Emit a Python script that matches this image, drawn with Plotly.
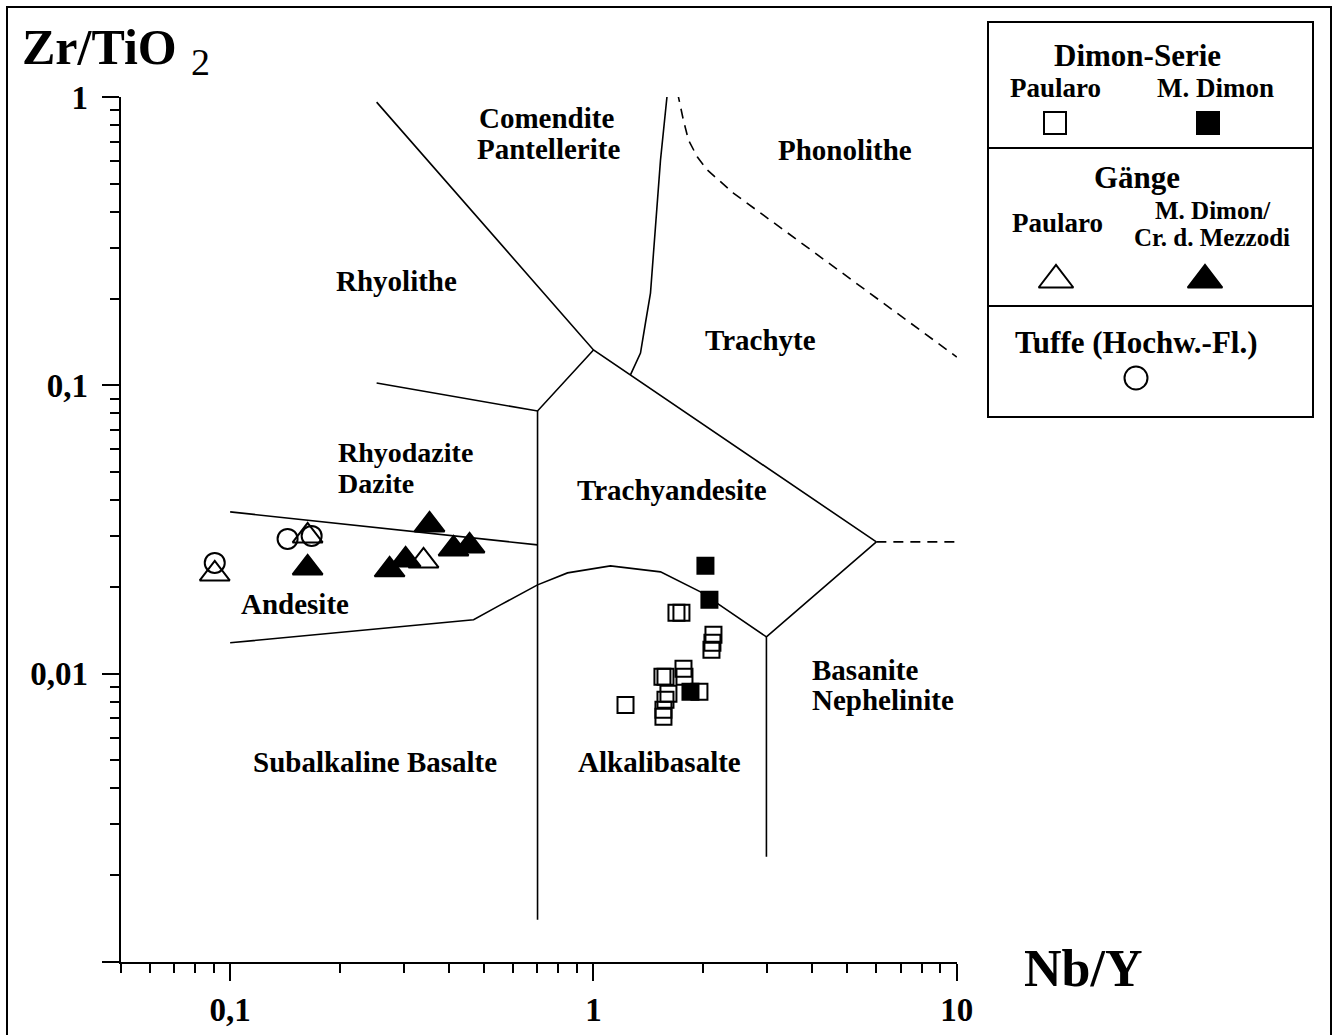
import numpy as np
import plotly.graph_objects as go

W, H = 1338, 1035

# ---------------- data (Nb/Y , Zr/TiO2) ----------------
# Dimon-Serie, Paularo (open squares)
dimon_paularo_nby = [1.692, 1.746, 2.139, 2.125, 2.112, 1.769, 1.780, 1.548, 1.578,
                     1.578, 1.608, 1.957, 1.225, 1.558, 1.558]
dimon_paularo_zrti = [0.01625, 0.01625, 0.01363, 0.01279, 0.01209, 0.01039, 0.00975, 0.00975, 0.00975,
                      0.00811, 0.00851, 0.00865, 0.00779, 0.00708, 0.00749]
# Dimon-Serie, M. Dimon (filled squares)
dimon_mdimon_nby = [2.033, 2.085, 1.849]
dimon_mdimon_zrti = [0.02365, 0.01803, 0.00865]
# Gänge, Paularo (open triangles)
gaenge_paularo_nby = [0.0907, 0.1634, 0.3406]
gaenge_paularo_zrti = [0.02218, 0.03005, 0.02461]
# Gänge, M. Dimon / Cr. d. Mezzodi (filled triangles)
gaenge_mdimon_nby = [0.1634, 0.2747, 0.3040, 0.3538, 0.4119, 0.4560]
gaenge_mdimon_zrti = [0.02327, 0.02291, 0.02480, 0.03281, 0.02708, 0.02774]
# Tuffe (Hochw.-Fl.) (open circles)
tuffe_nby = [0.0907, 0.1439, 0.1676]
tuffe_zrti = [0.02422, 0.02934, 0.03005]

# ---------------- field boundaries (Winchester & Floyd) ----------------
b_rhy_com_x = [0.2530, 1.0, 6.005]
b_rhy_com_y = [0.9609, 0.1327, 0.02864]
b_rhy_rhd_x = [0.2530, 0.7015, 1.0]
b_rhy_rhd_y = [0.1019, 0.0815, 0.1327]
b_vert1_x = [0.7015, 0.7015]
b_vert1_y = [0.0815, 0.0014]
b_rhd_and_x = [0.1, 0.7015]
b_rhd_and_y = [0.0364, 0.02797]
b_and_sub_x = [0.1, 0.4677, 0.5548, 0.7015, 0.8482, 1.1137, 1.529, 1.970, 2.992]
b_and_sub_y = [0.01279, 0.01537, 0.01732, 0.02032, 0.02236, 0.02365, 0.02254, 0.01921, 0.01341]
b_bas_x = [6.005, 2.992, 2.992]
b_bas_y = [0.02864, 0.01341, 0.002316]
b_com_tra_x = [1.264, 1.347, 1.390, 1.435, 1.481, 1.529, 1.598]
b_com_tra_y = [0.1087, 0.1295, 0.1646, 0.2091, 0.3541, 0.6046, 1.041]
b_pho_x = [1.702, 1.768, 1.826, 1.932, 2.059, 2.427, 10.0]
b_pho_y = [1.041, 0.832, 0.7094, 0.6194, 0.5582, 0.4647, 0.1254]
b_pho2_x = [6.005, 10.0]
b_pho2_y = [0.02864, 0.02864]

# ---------------- ticks ----------------
x_major = [0.1, 1, 10]
x_major_text = ["0,1", "1", "10"]
x_minor = [0.05, 0.06, 0.07, 0.08, 0.09, 0.2, 0.3, 0.4, 0.5, 0.6, 0.7, 0.8, 0.9,
           2, 3, 4, 5, 6, 7, 8, 9]
y_major = [0.001, 0.01, 0.1, 1]
y_major_text = ["", "0,01", "0,1", "1"]
y_minor = [0.002, 0.003, 0.004, 0.005, 0.006, 0.007, 0.008, 0.009,
           0.02, 0.03, 0.04, 0.05, 0.06, 0.07, 0.08, 0.09,
           0.2, 0.3, 0.4, 0.5, 0.6, 0.7, 0.8, 0.9]

# ---------------- labels ----------------
field_labels = ["Comendite", "Pantellerite", "Phonolithe", "Rhyolithe", "Trachyte",
                "Rhyodazite", "Dazite", "Trachyandesite", "Andesite",
                "Subalkaline Basalte", "Alkalibasalte", "Basanite", "Nephelinite"]
field_pos = [(477, 118, "left", 29), (475, 149, "left", 29), (845, 150, "center", 29),
             (396, 281, "center", 29), (760, 340, "center", 29), (336, 452, "left", 28),
             (336, 483, "left", 28), (672, 490, "center", 29), (295, 604, "center", 29),
             (375, 762, "center", 29), (659, 762, "center", 29),
             (810, 670, "left", 29), (810, 700, "left", 29)]

FONT = "Liberation Serif"

def px(x):
    return x / W

def py(y):
    return 1 - y / H

# plot area in pixels
PX0, PX1, PY0, PY1 = 120.6, 957.0, 97.0, 962.0

fig = go.Figure()

for bx, by, dash in [(b_rhy_com_x, b_rhy_com_y, "solid"), (b_rhy_rhd_x, b_rhy_rhd_y, "solid"),
                     (b_vert1_x, b_vert1_y, "solid"), (b_rhd_and_x, b_rhd_and_y, "solid"),
                     (b_and_sub_x, b_and_sub_y, "solid"), (b_bas_x, b_bas_y, "solid"),
                     (b_com_tra_x, b_com_tra_y, "solid"), (b_pho_x, b_pho_y, "10px,7px"),
                     (b_pho2_x, b_pho2_y, "10px,7px")]:
    fig.add_trace(go.Scatter(x=bx, y=by, mode="lines", line=dict(color="black", width=1.6, dash=dash),
                             hoverinfo="skip", showlegend=False))

def mk(symbol, size):
    return dict(symbol=symbol, size=size, color="black",
                line=dict(color="black", width=2))

fig.add_trace(go.Scatter(x=tuffe_nby, y=tuffe_zrti, mode="markers",
                         marker=mk("circle-open", 20), showlegend=False))
fig.add_trace(go.Scatter(x=gaenge_paularo_nby, y=gaenge_paularo_zrti, mode="markers",
                         marker=mk("triangle-up-open", 26), showlegend=False))
fig.add_trace(go.Scatter(x=gaenge_mdimon_nby, y=gaenge_mdimon_zrti, mode="markers",
                         marker=mk("triangle-up", 26), showlegend=False))
fig.add_trace(go.Scatter(x=dimon_paularo_nby, y=dimon_paularo_zrti, mode="markers",
                         marker=mk("square-open", 16), showlegend=False))
fig.add_trace(go.Scatter(x=dimon_mdimon_nby, y=dimon_mdimon_zrti, mode="markers",
                         marker=mk("square", 16), showlegend=False))

# legend symbols on a pixel overlay axis
leg_sym = [("square-open", 22, 1055, 123), ("square", 22, 1208, 123),
           ("triangle-up-open", 30, 1056, 280), ("triangle-up", 30, 1205, 280),
           ("circle-open", 23, 1136, 378)]
for sym, sz, lx, ly in leg_sym:
    fig.add_trace(go.Scatter(x=[lx], y=[ly], mode="markers", xaxis="x2", yaxis="y2",
                             marker=dict(symbol=sym, size=sz, color="black",
                                         line=dict(color="black", width=2)),
                             hoverinfo="skip", showlegend=False))

tickfont = dict(family=FONT, size=33, color="black", weight=700)
fig.update_layout(
    width=W, height=H, margin=dict(l=0, r=0, t=0, b=0, pad=0, autoexpand=False),
    paper_bgcolor="white", plot_bgcolor="rgba(0,0,0,0)",
    showlegend=False,
    xaxis=dict(type="log", range=[np.log10(0.05) - 0.0005, 1.0005], domain=[px(PX0), px(PX1)],
               anchor="y", showline=True, linecolor="black", linewidth=2, mirror=False,
               ticks="outside", ticklen=17, tickwidth=2, tickcolor="black",
               tickmode="array", tickvals=x_major, ticktext=x_major_text,
               minor=dict(tickmode="array", tickvals=x_minor, ticks="outside", ticklen=9,
                          tickwidth=1.5, tickcolor="black", showgrid=False),
               showgrid=False, zeroline=False, tickfont=tickfont, ticklabelstandoff=0,
               automargin=False),
    yaxis=dict(type="log", range=[-3.0005, 0.0005], domain=[py(PY1), py(PY0)],
               anchor="x", showline=True, linecolor="black", linewidth=2, mirror=False,
               ticks="outside", ticklen=17, tickwidth=2, tickcolor="black",
               tickmode="array", tickvals=y_major, ticktext=y_major_text,
               minor=dict(tickmode="array", tickvals=y_minor, ticks="outside", ticklen=9,
                          tickwidth=1.5, tickcolor="black", showgrid=False),
               showgrid=False, zeroline=False, tickfont=tickfont, ticklabelstandoff=7,
               automargin=False),
    xaxis2=dict(domain=[0, 1], range=[0, W], visible=False, anchor="y2", fixedrange=True),
    yaxis2=dict(domain=[0, 1], range=[H, 0], visible=False, anchor="x2", fixedrange=True),
)

ann = []
for t, (lx, ly, al, fs) in zip(field_labels, field_pos):
    ann.append(dict(text=t, x=px(lx), y=py(ly), xref="paper", yref="paper",
                    xanchor=al, yanchor="middle", showarrow=False,
                    font=dict(family=FONT, size=fs, color="black", weight=700)))

# axis titles
ann.append(dict(text="Zr/TiO", x=px(20), y=py(47), xref="paper", yref="paper", xanchor="left",
                yanchor="middle", showarrow=False, font=dict(family=FONT, size=50, color="black", weight=700)))
ann.append(dict(text="2", x=px(189), y=py(62), xref="paper", yref="paper", xanchor="left",
                yanchor="middle", showarrow=False, font=dict(family=FONT, size=38, color="black", weight=400)))
ann.append(dict(text="Nb/Y", x=px(1083), y=py(968), xref="paper", yref="paper", xanchor="center",
                yanchor="middle", showarrow=False, font=dict(family=FONT, size=52, color="black", weight=700)))

# legend texts
leg_texts = [("Dimon-Serie", 1137, 56, 31), ("Paularo", 1055, 88, 27), ("M. Dimon", 1215, 88, 27),
             ("Gänge", 1137, 177, 31), ("Paularo", 1057, 223, 27), ("M. Dimon/", 1213, 210, 25),
             ("Cr. d. Mezzodi", 1212, 238, 25), ("Tuffe (Hochw.-Fl.)", 1136, 342, 31)]
for t, lx, ly, fs in leg_texts:
    ann.append(dict(text=t, x=px(lx), y=py(ly), xref="paper", yref="paper", xanchor="center",
                    yanchor="middle", showarrow=False, font=dict(family=FONT, size=fs, color="black", weight=700)))
fig.update_layout(annotations=ann)

shapes = []
# outer frame
shapes.append(dict(type="rect", xref="x2", yref="y2", x0=7, y0=7, x1=1331, y1=1060,
                   line=dict(color="black", width=2)))
# legend box
shapes.append(dict(type="rect", xref="x2", yref="y2", x0=988, y0=22, x1=1313, y1=417,
                   line=dict(color="black", width=2)))
shapes.append(dict(type="line", xref="x2", yref="y2", x0=988, y0=148, x1=1313, y1=148,
                   line=dict(color="black", width=2)))
shapes.append(dict(type="line", xref="x2", yref="y2", x0=988, y0=306, x1=1313, y1=306,
                   line=dict(color="black", width=2)))
fig.update_layout(shapes=shapes)

fig.write_html("out.html", include_plotlyjs=True, full_html=True,
               config={"displayModeBar": False},
               post_script="document.body.style.margin='0px';")
